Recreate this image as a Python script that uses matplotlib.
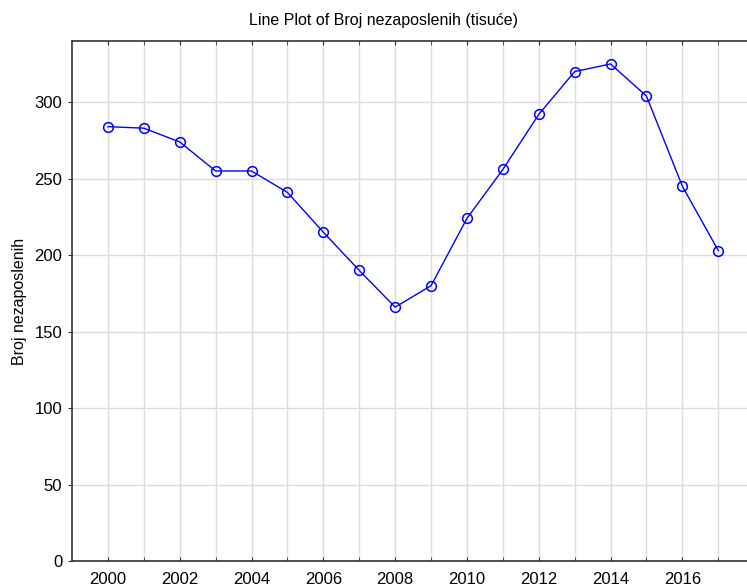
import matplotlib
matplotlib.use('Agg')
import matplotlib.pyplot as plt

plt.rcParams['font.family'] = ['Liberation Sans', 'DejaVu Sans']

years = [2000, 2001, 2002, 2003, 2004, 2005, 2006, 2007, 2008,
         2009, 2010, 2011, 2012, 2013, 2014, 2015, 2016, 2017]
unemployed = [284, 283, 274, 255, 255, 241, 215, 190, 166,
              180, 224, 256, 292, 320, 325, 304, 245, 203]
xticks = [2000, 2002, 2004, 2006, 2008, 2010, 2012, 2014, 2016]
yticks = [0, 50, 100, 150, 200, 250, 300]

fig = plt.figure(figsize=(7.47, 5.88), dpi=100)
ax = fig.add_axes([72 / 747, 1 - 561 / 588, 1 - 72 / 747, (561 - 41) / 588])

ax.plot(years, unemployed, color='blue', linewidth=1, marker='o',
        markersize=7, markerfacecolor='none', markeredgecolor='blue',
        markeredgewidth=1.1, zorder=3)

ax.set_xlim(1999, 2017.8)
ax.set_ylim(0, 340)
ax.set_xticks(list(range(2000, 2018)), minor=True)
ax.set_xticks(xticks)
ax.set_yticks(yticks)
ax.grid(True, which='both', axis='x', color='#dcdcdc', linewidth=1)
ax.grid(True, which='major', axis='y', color='#dcdcdc', linewidth=1)
ax.set_axisbelow(True)

ax.tick_params(axis='x', which='both', direction='in', top=True, length=3,
               color='#333333', labelsize=12, pad=8)
ax.tick_params(axis='x', which='minor', labelbottom=False)
ax.tick_params(axis='y', direction='out', length=3, color='#333333',
               labelsize=12, pad=4)

for side in ['left', 'bottom', 'top']:
    ax.spines[side].set_color('#333333')
    ax.spines[side].set_linewidth(1.2)
ax.spines['right'].set_visible(False)

ax.set_ylabel('Broj nezaposlenih', fontsize=11.5, labelpad=5)
fig.text(384 / 747, 1 - 20 / 588,
         'Line Plot of Broj nezaposlenih (tisuće)', ha='center', va='center',
         fontsize=11.5)

fig.savefig('out.png', dpi=100)
